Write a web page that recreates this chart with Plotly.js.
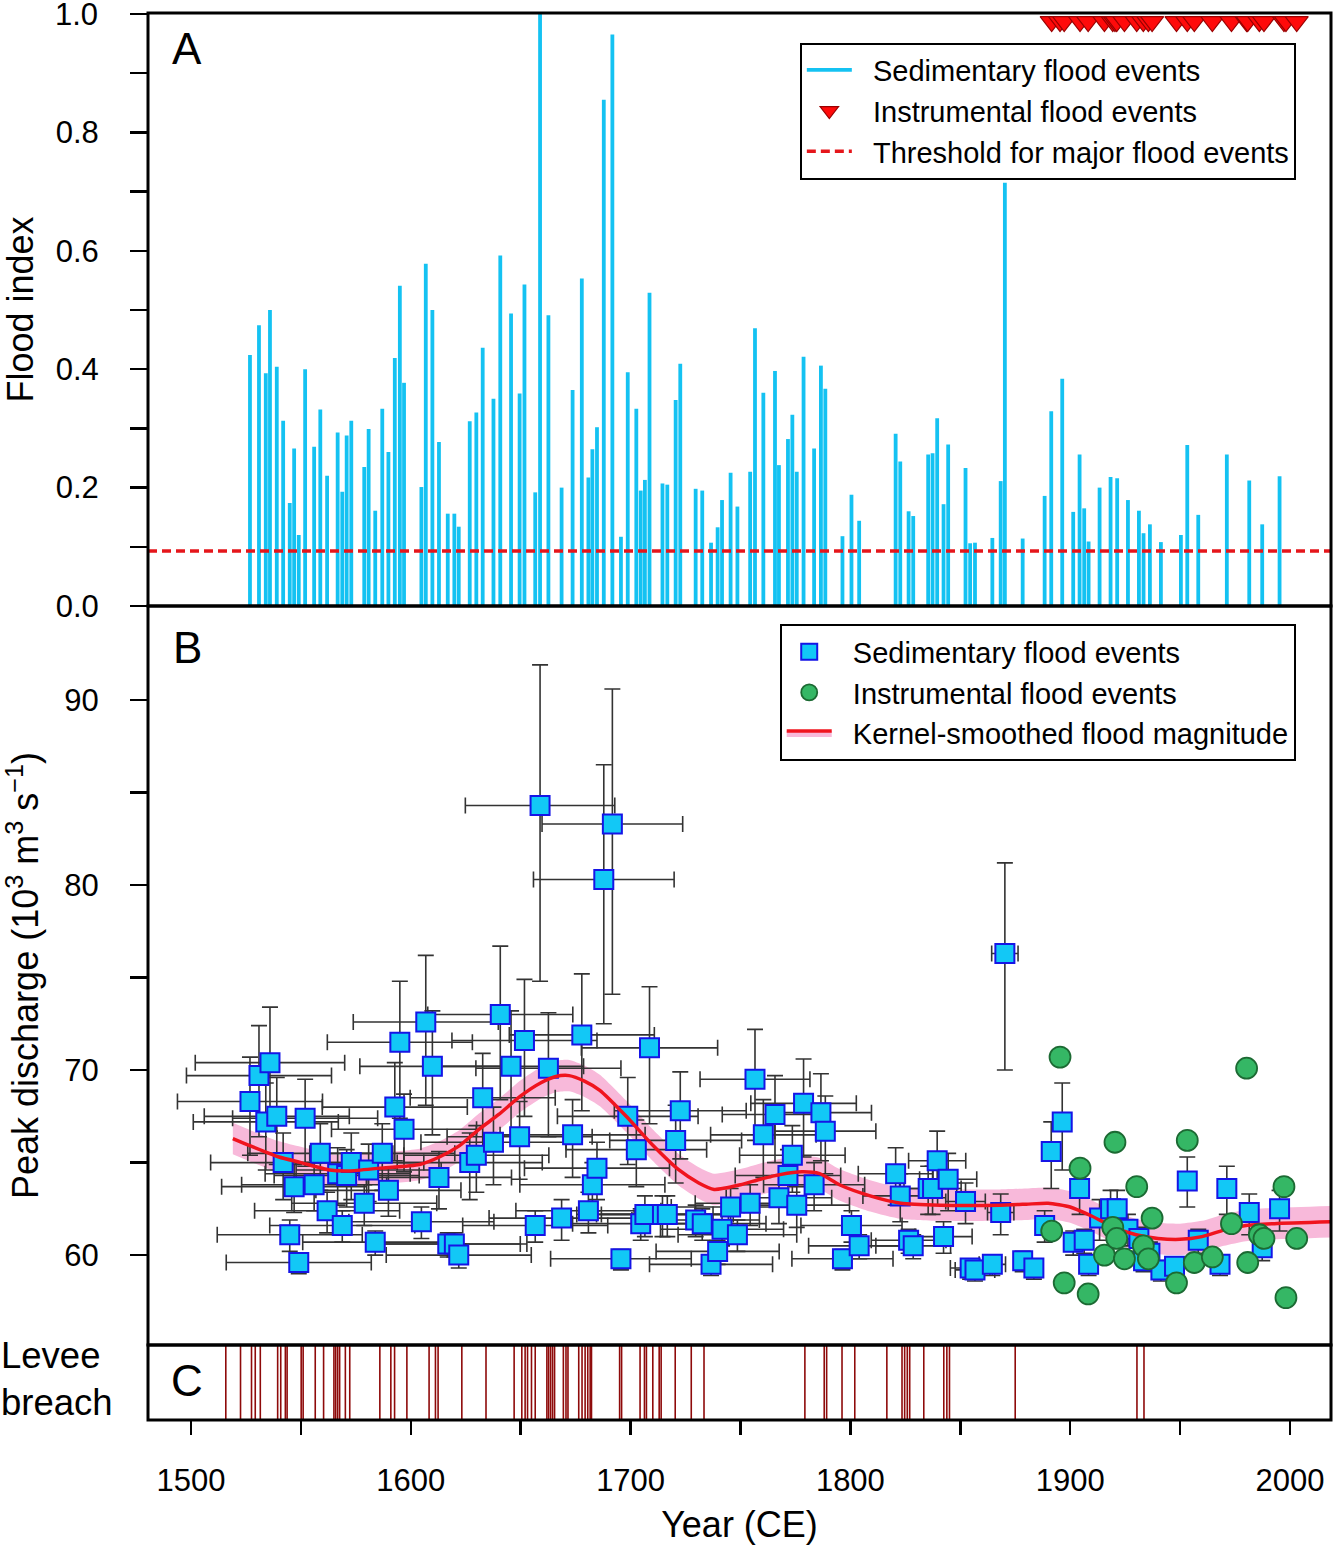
<!DOCTYPE html>
<html><head><meta charset="utf-8">
<script src="https://cdn.plot.ly/plotly-3.0.1.min.js"></script>
<style>body{margin:0;background:#fff}#chart{width:1333px;height:1547px}</style>
</head><body><div id="chart"></div>
<script>
// Panel A: sedimentary flood index
const sedYears = [1526.8,1530.9,1534.0,1535.9,1539.0,1541.9,1544.9,1546.9,1549.0,1551.9,
1556.0,1558.8,1561.9,1566.7,1568.8,1570.8,1572.9,1578.8,1580.8,1583.8,
1587.0,1589.8,1592.7,1595.0,1596.9,1604.8,1606.8,1609.8,1612.8,1616.8,
1619.8,1621.8,1626.8,1629.8,1632.7,1637.6,1640.7,1645.6,1649.5,1651.7,
1656.6,1658.8,1662.6,1668.6,1673.6,1677.8,1680.8,1682.6,1684.7,1687.8,
1691.7,1695.6,1698.7,1702.6,1704.6,1706.5,1708.6,1714.5,1716.7,1720.5,
1722.6,1729.6,1732.6,1736.6,1739.6,1741.6,1745.5,1748.6,1754.4,1756.6,
1760.4,1765.7,1767.5,1771.6,1773.6,1775.6,1778.7,1783.5,1786.6,1788.6,
1796.4,1800.5,1804.0,1820.6,1822.7,1826.5,1828.6,1835.4,1837.4,1839.5,
1842.4,1844.5,1852.4,1854.5,1856.7,1864.6,1868.4,1870.3,1878.4,1888.4,
1891.4,1896.4,1901.4,1904.3,1906.4,1908.4,1913.4,1918.4,1921.4,1926.3,
1931.3,1933.4,1936.3,1941.3,1950.4,1953.3,1958.3,1971.3,1981.5,1987.4,
1995.3];
const sedIndex = [0.424,0.474,0.393,0.500,0.404,0.313,0.174,0.266,0.120,0.400,
0.269,0.332,0.220,0.293,0.193,0.288,0.313,0.235,0.299,0.161,
0.333,0.260,0.419,0.541,0.377,0.201,0.578,0.500,0.277,0.156,
0.156,0.134,0.312,0.327,0.436,0.350,0.592,0.494,0.359,0.543,
0.192,1.000,0.491,0.200,0.365,0.553,0.217,0.265,0.302,0.855,
0.965,0.117,0.395,0.333,0.195,0.213,0.529,0.207,0.205,0.348,
0.409,0.198,0.195,0.107,0.133,0.179,0.225,0.168,0.227,0.469,
0.360,0.397,0.238,0.282,0.323,0.227,0.421,0.266,0.406,0.367,
0.118,0.188,0.144,0.291,0.244,0.160,0.152,0.256,0.258,0.317,
0.172,0.273,0.233,0.106,0.107,0.115,0.211,0.715,0.114,0.186,
0.329,0.384,0.159,0.256,0.165,0.109,0.200,0.218,0.216,0.179,
0.161,0.123,0.138,0.108,0.120,0.272,0.154,0.256,0.212,0.138,
0.219];
const thresholdIndex = 0.093;

// Instrumental flood events (years and peak discharge)
const instrYears = [1891.6,1895.4,1897.3,1904.5,1908.2,1915.6,1919.4,1920.4,1921.2,1924.7,
1930.3,1933.3,1935.6,1937.3,1948.4,1953.3,1956.5,1964.7,1973.4,1980.3,
1980.8,1986.1,1988.2,1997.3,1998.2,2003.1];
const instrQ = [61.3,70.7,58.5,64.7,57.9,60.0,61.5,66.1,60.9,59.8,
63.7,60.5,59.8,62.0,58.5,66.2,59.6,59.9,61.7,70.1,
59.6,61.1,60.9,63.7,57.7,60.9];

// Panel B: sedimentary peak discharge with uncertainties
const magYears = [1526.8,1530.9,1534.0,1535.9,1539.0,1541.9,1544.9,1546.9,1549.0,1551.9,
1556.0,1558.8,1561.9,1566.7,1568.8,1570.8,1572.9,1578.8,1580.8,1583.8,
1587.0,1589.8,1592.7,1595.0,1596.9,1604.8,1606.8,1609.8,1612.8,1616.8,
1619.8,1621.8,1626.8,1629.8,1632.7,1637.6,1640.7,1645.6,1649.5,1651.7,
1656.6,1658.8,1662.6,1668.6,1673.6,1677.8,1680.8,1682.6,1684.7,1687.8,
1691.7,1695.6,1698.7,1702.6,1704.6,1706.5,1708.6,1714.5,1716.7,1720.5,
1722.6,1729.6,1732.6,1736.6,1739.6,1741.6,1745.5,1748.6,1754.4,1756.6,
1760.4,1765.7,1767.5,1771.6,1773.6,1775.6,1778.7,1783.5,1786.6,1788.6,
1796.4,1800.5,1804.0,1820.6,1822.7,1826.5,1828.6,1835.4,1837.4,1839.5,
1842.4,1844.5,1852.4,1854.5,1856.7,1864.6,1868.4,1870.3,1878.4,1883.5,
1888.4,1891.4,1896.4,1901.4,1904.3,1906.4,1908.4,1913.4,1918.4,1921.4,
1926.3,1931.3,1933.4,1936.3,1941.3,1947.5,1953.3,1958.3,1968.2,1971.3,
1981.5,1987.4,1995.3];
const magQ = [68.3,69.7,67.2,70.4,67.5,65.0,61.1,63.7,59.6,67.4,
63.8,65.5,62.4,64.4,61.6,64.3,65.0,62.8,64.6,60.7,
65.5,63.5,68.0,71.5,66.8,61.8,72.6,70.2,64.2,60.6,
60.6,60.0,65.0,65.4,68.5,66.1,73.0,70.2,66.4,71.6,
61.6,84.3,70.1,62.0,66.5,71.9,62.4,63.8,64.7,80.3,
83.3,59.8,67.5,65.7,61.7,62.2,71.2,62.2,62.2,66.2,
67.8,61.9,61.7,59.5,60.2,61.4,62.6,61.1,62.8,69.5,
66.5,67.6,63.1,64.3,65.4,62.7,68.2,63.8,67.7,66.7,
59.8,61.6,60.5,64.4,63.2,60.8,60.5,63.6,63.6,65.1,
61.0,64.1,62.9,59.3,59.2,59.5,62.3,76.3,59.7,59.3,
61.6,65.6,67.2,60.7,63.6,60.8,59.5,62.0,62.5,62.5,
61.4,60.9,59.7,60.1,59.2,59.4,64.0,60.8,59.5,63.6,
62.3,60.4,62.5];
const magXerr = [33,33,33,34,33,33,33,33,33,33,
33,33,33,33,33,33,33,33,33,33,
33,33,33,33,33,33,33,33,33,33,
33,33,33,33,33,33,33,33,33,33,
33,34,33,33,33,33,33,33,33,32,
32,32,32,32,31,31,31,30,30,30,
30,29,29,28,28,28,27,27,25,25,
24,24,24,24,24,24,24,23,23,23,
23,23,23,17,17,17,17,13,13,13,
13,13,9,9,9,6,6,6,4,4,
3,3,3,2,2,2,2,2,2,2,
2,2,2,2,2,2,2,2,2,2,
2,2,2];
const magYerrPlus = [2.4,2.7,2.1,3.0,2.1,1.6,0.8,1.2,0.5,2.1,
1.2,1.6,1.0,1.4,0.8,1.4,1.6,1.0,1.4,0.6,
1.6,1.2,2.4,3.3,1.9,0.8,3.6,3.0,1.4,0.6,
0.6,0.6,1.6,1.6,2.4,1.9,3.7,3.0,1.9,3.3,
0.8,7.6,3.0,1.0,1.9,3.3,1.0,1.2,1.4,6.2,
7.3,0.5,2.1,1.6,0.8,1.0,3.3,1.0,1.0,1.9,
2.1,0.8,0.8,0.5,0.6,0.8,1.0,0.8,1.0,2.7,
1.9,2.1,1.2,1.4,1.6,1.0,2.4,1.2,2.1,1.9,
0.5,0.8,0.6,1.4,1.2,0.6,0.6,1.2,1.2,1.6,
0.8,1.4,1.0,0.5,0.5,0.5,1.0,4.9,0.5,0.5,
0.8,1.6,2.1,0.6,1.2,0.6,0.5,1.0,1.0,1.0,
0.8,0.6,0.5,0.6,0.5,0.5,1.3,0.6,0.5,1.2,
1.0,0.6,1.0];
const magYerrMinus = [2.9,3.3,2.6,3.7,2.6,2.0,0.9,1.4,0.6,2.6,
1.4,2.0,1.2,1.7,0.9,1.7,2.0,1.2,1.7,0.7,
2.0,1.4,2.9,4.1,2.3,0.9,4.5,3.7,1.7,0.7,
0.7,0.7,2.0,2.0,2.9,2.3,4.6,3.7,2.3,4.1,
0.9,9.5,3.7,1.2,2.3,4.1,1.2,1.4,1.7,7.8,
9.2,0.6,2.6,2.0,0.9,1.2,4.1,1.2,1.2,2.3,
2.6,0.9,0.9,0.6,0.7,0.9,1.2,0.9,1.2,3.3,
2.3,2.6,1.4,1.7,2.0,1.2,2.9,1.4,2.6,2.3,
0.6,0.9,0.7,1.7,1.4,0.7,0.7,1.4,1.4,2.0,
0.9,1.7,1.2,0.6,0.6,0.6,1.2,6.3,0.6,0.6,
0.9,2.0,2.6,0.7,1.4,0.7,0.6,1.2,1.2,1.2,
0.9,0.7,0.6,0.7,0.6,0.6,1.4,0.7,0.6,1.4,
1.2,0.7,1.2];

// Kernel-smoothed flood magnitude and its confidence band half-width
const kernelYears = [1519,1527,1540,1550,1563,1572,1586,1604,1613,1622,1631,1640,1650,1659,1666,1672,1679,1686,1698,1710,1722,1731,1738,1750,1759,1768,1778,1786,1795,1809,1823,1841,1868,1880,1890,1900,1910,1920,1930,1940,1950,1960,1970,1980,1993,2019];
const kernelQ = [66.3,65.9,65.3,65.0,64.6,64.55,64.7,64.9,65.3,65.9,66.8,67.6,68.6,69.3,69.65,69.7,69.4,68.9,67.5,65.95,64.6,63.9,63.55,63.8,64.1,64.35,64.5,64.4,63.8,63.2,62.8,62.7,62.7,62.75,62.8,62.6,62.1,61.5,61.1,60.9,60.85,61.0,61.35,61.6,61.7,61.8];
const kernelBand = 0.85;

// Panel C: levee breach years
const leveeYears = [1515.8,1522.5,1527.5,1529.2,1531.5,1539.4,1540.8,1542.9,1543.7,1550.1,1551.0,1556.5,1560.3,1565.0,1565.8,1566.7,1567.6,1570.2,1572.2,1585.9,1590.9,1592.6,1598.2,1608.3,1611.2,1612.4,1623.2,1634.2,1647.0,1650.5,1652.0,1653.1,1654.9,1656.6,1661.9,1662.7,1663.6,1664.5,1665.4,1669.4,1670.6,1671.5,1676.4,1677.9,1679.3,1680.5,1681.6,1682.2,1695.0,1695.9,1704.3,1706.3,1707.2,1710.1,1713.0,1713.9,1720.3,1727.6,1733.4,1779.3,1788.1,1789.2,1796.2,1802.0,1816.6,1823.5,1824.7,1825.9,1827.0,1833.4,1842.5,1843.9,1845.1,1875.0,1930.4,1933.6];

const xRange = [1480.4, 2018.7];
const xTickVals = [1500,1600,1700,1800,1900,2000];
const aTickVals = [0,0.2,0.4,0.6,0.8,1.0];
const aTickText = ['0.0','0.2','0.4','0.6','0.8','1.0'];
const aMinorVals = [0.1,0.3,0.5,0.7,0.9];
const bTickVals = [60,70,80,90];
const bMinorVals = [65,75,85];

// panel domains (paper fractions)
const domA = [0.5785, 1], domB = [0.0533, 0.5785], domC = [0, 0.0533];

// build vertical segment paths
function stems(xs, y0s, y1s) {
  const X = [], Y = [];
  xs.forEach((x, i) => { X.push(x, x, null); Y.push(y0s(i), y1s(i), null); });
  return {X, Y};
}
const barsA = stems(sedYears, () => 0, i => sedIndex[i]);
const leveeC = stems(leveeYears, () => 0, () => 1);

const FONT = 'Liberation Sans, Arial, Helvetica, sans-serif';
const CYAN = '#14C2F2';
const SP = '\u00A0\u00A0';

const traces = [
  // Panel A
  {x: barsA.X, y: barsA.Y, xaxis: 'x', yaxis: 'y', mode: 'lines', type: 'scatter',
   line: {color: CYAN, width: 3.8}, name: SP + 'Sedimentary flood events',
   legend: 'legend', legendrank: 1, legendgroup: 'a1', connectgaps: false},
  {x: xRange, y: [thresholdIndex, thresholdIndex], xaxis: 'x', yaxis: 'y', mode: 'lines',
   line: {color: '#E5161B', width: 3.5, dash: '9px,5px'}, name: SP + 'Threshold for major flood events',
   legend: 'legend', legendrank: 3, legendgroup: 'a3'},
  {x: instrYears, y: instrYears.map(() => 0.987), xaxis: 'x', yaxis: 'y', mode: 'markers',
   marker: {symbol: 'triangle-down', size: 20, color: '#FF0A0A', line: {color: '#9A0000', width: 1.2}},
   cliponaxis: false, name: SP + 'Instrumental flood events', legend: 'legend', legendrank: 2, legendgroup: 'a2'},

  // Panel B band
  {x: kernelYears, y: kernelQ.map(v => v - kernelBand), xaxis: 'x', yaxis: 'y2', mode: 'lines',
   line: {width: 0, color: 'rgba(0,0,0,0)', shape: 'spline', smoothing: 0.6}, showlegend: false, hoverinfo: 'skip'},
  {x: kernelYears, y: kernelQ.map(v => v + kernelBand), xaxis: 'x', yaxis: 'y2', mode: 'lines',
   fill: 'tonexty', fillcolor: '#F8B9DA', line: {width: 0, color: 'rgba(0,0,0,0)', shape: 'spline', smoothing: 0.6}, showlegend: false, hoverinfo: 'skip'},
  // squares
  {x: magYears, y: magQ, xaxis: 'x', yaxis: 'y2', mode: 'markers', type: 'scatter',
   marker: {symbol: 'square', size: 19, color: '#12C8F6', line: {color: '#1515E6', width: 2}},
   error_x: {type: 'data', array: magXerr, color: '#333333', thickness: 1.6, width: 8},
   error_y: {type: 'data', symmetric: false, array: magYerrPlus, arrayminus: magYerrMinus, color: '#333333', thickness: 1.6, width: 8},
   name: SP + 'Sedimentary flood events', legend: 'legend2', legendrank: 1, legendgroup: 'b1'},
  // kernel line
  {x: kernelYears, y: kernelQ, xaxis: 'x', yaxis: 'y2', mode: 'lines', line: {color: '#F0141E', width: 3.5, shape: 'spline', smoothing: 0.6},
   showlegend: false},
  // instrumental circles
  {x: instrYears, y: instrQ, xaxis: 'x', yaxis: 'y2', mode: 'markers',
   marker: {symbol: 'circle', size: 21, color: '#35B765', line: {color: '#1C6A33', width: 1.8}},
   name: SP + 'Instrumental flood events', legend: 'legend2', legendrank: 2, legendgroup: 'b2'},
  // legend entry for kernel smoothing
  {x: [null], y: [null], xaxis: 'x', yaxis: 'y2', mode: 'lines', fill: 'toself', fillcolor: '#F8B9DA',
   line: {color: '#F0141E', width: 3.5}, name: SP + 'Kernel-smoothed flood magnitude', legend: 'legend2', legendrank: 3, legendgroup: 'b3'},

  // Panel C
  {x: leveeC.X, y: leveeC.Y, xaxis: 'x', yaxis: 'y3', mode: 'lines',
   line: {color: '#8E0A0A', width: 1.6}, showlegend: false}
];

const axisCommon = {showline: false, showgrid: false, zeroline: false,
  ticks: 'outside', tickwidth: 2.5, tickcolor: '#000'};

function frame(dom) {
  return {type: 'rect', xref: 'paper', yref: 'paper', x0: 0, x1: 1, y0: dom[0], y1: dom[1],
    line: {color: '#000', width: 3}, fillcolor: 'rgba(0,0,0,0)', layer: 'above'};
}

const layout = {
  width: 1333, height: 1547,
  margin: {l: 148, r: 2, t: 13, b: 127},
  paper_bgcolor: '#fff', plot_bgcolor: 'rgba(0,0,0,0)',
  font: {family: FONT, color: '#000', size: 29},
  showlegend: true,
  xaxis: Object.assign({}, axisCommon, {
    domain: [0, 1], range: xRange, anchor: 'y3',
    tickmode: 'array', tickvals: xTickVals, ticklen: 14, tickfont: {size: 31},
    ticklabelstandoff: 19,
    minor: {dtick: 50, tick0: 1500, ticks: 'outside', ticklen: 14, tickwidth: 2.5, tickcolor: '#000'},
    title: {text: 'Year (CE)', font: {size: 36}, standoff: 14}
  }),
  yaxis: Object.assign({}, axisCommon, {
    domain: domA, range: [0, 1.0015], anchor: 'x',
    tickmode: 'array', tickvals: aTickVals, ticktext: aTickText, ticklen: 17, tickfont: {size: 31},
    ticklabelstandoff: 25,
    minor: {tickvals: aMinorVals, ticks: 'outside', ticklen: 17, tickwidth: 2.5, tickcolor: '#000'},
    title: {text: 'Flood index', font: {size: 36}, standoff: 19}
  }),
  yaxis2: Object.assign({}, axisCommon, {
    domain: domB, range: [55.14, 95.08], anchor: 'x',
    tickmode: 'array', tickvals: bTickVals, ticklen: 17, tickfont: {size: 31},
    ticklabelstandoff: 25,
    minor: {tickvals: bMinorVals, ticks: 'outside', ticklen: 17, tickwidth: 2.5, tickcolor: '#000'},
    title: {text: 'Peak discharge (10<sup>3</sup> m<sup>3</sup> s<sup>\u22121</sup>)', font: {size: 36}, standoff: 31}
  }),
  yaxis3: Object.assign({}, axisCommon, {
    domain: domC, range: [0, 1], anchor: 'x',
    ticks: '', showticklabels: false
  }),
  shapes: [frame(domA), frame(domB), frame(domC)],
  legend: {x: 0.551, y: 0.979, xanchor: 'left', yanchor: 'top', bgcolor: '#fff',
    bordercolor: '#000', borderwidth: 2, font: {size: 29, family: FONT}, itemwidth: 45,
    tracegroupgap: 5, traceorder: 'normal'},
  legend2: {x: 0.534, y: 0.5655, xanchor: 'left', yanchor: 'top', bgcolor: '#fff',
    bordercolor: '#000', borderwidth: 2, font: {size: 29, family: FONT}, itemwidth: 45,
    tracegroupgap: 3, traceorder: 'normal'},
  annotations: [
    {text: '1.0', xref: 'paper', yref: 'paper', x: -0.0415, y: 1.0085, xanchor: 'right', yanchor: 'top',
     height: 24, valign: 'middle', borderpad: 0, showarrow: false, font: {size: 31}},
    {text: 'A', xref: 'paper', yref: 'paper', x: 0.033, y: 0.975, xanchor: 'center', yanchor: 'middle', showarrow: false, font: {size: 44}},
    {text: 'B', xref: 'paper', yref: 'paper', x: 0.033, y: 0.5487, xanchor: 'center', yanchor: 'middle', showarrow: false, font: {size: 44}},
    {text: 'C', xref: 'paper', yref: 'paper', x: 0.033, y: 0.0284, xanchor: 'center', yanchor: 'middle', showarrow: false, font: {size: 44}},
    {text: 'Levee<br>breach', xref: 'paper', yref: 'paper', x: -0.1257, y: 0.0292, xanchor: 'left', yanchor: 'middle', align: 'left', showarrow: false, font: {size: 36.5}}
  ]
};

Plotly.newPlot('chart', traces, layout, {staticPlot: true, displayModeBar: false});
</script></body></html>
